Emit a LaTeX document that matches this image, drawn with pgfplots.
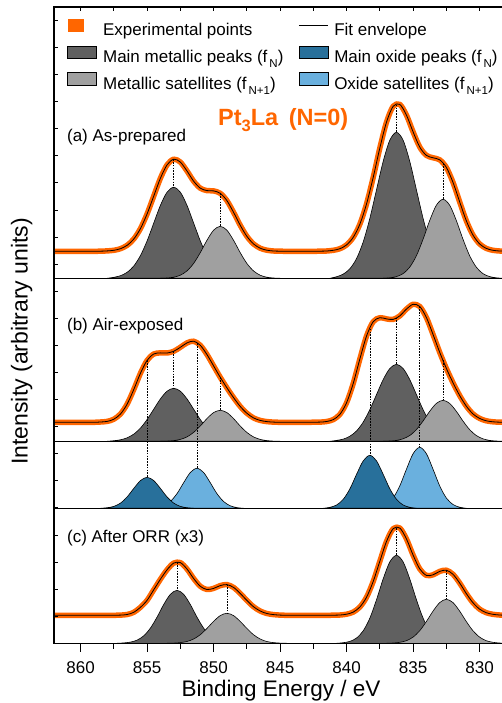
\documentclass[border=0pt]{standalone}
\usepackage{fontspec}
\setmainfont{Liberation Sans}
\usepackage{pgfplots}
\pgfplotsset{compat=1.18}
\definecolor{expcol}{RGB}{255,102,0}
\definecolor{mmet}{RGB}{96,96,96}
\definecolor{smet}{RGB}{160,160,160}
\definecolor{mox}{RGB}{40,112,155}
\definecolor{sox}{RGB}{106,176,222}
\newcommand{\lsub}[1]{\hspace{2pt}\raisebox{-5.5pt}{\fontsize{11.5}{12}\selectfont #1}}
\pgfplotsset{
  comp/.style={fill=#1, draw=black, line width=0.6pt, smooth, forget plot},
  expband/.style={expcol, line width=5.5pt, smooth, line join=round, forget plot},
  env/.style={black, line width=0.8pt, smooth, forget plot},
  dl/.style={black, line width=0.5pt, dash pattern=on 1.6pt off 1.2pt, forget plot},
  sep/.style={black, line width=1.1pt, forget plot},
}
\begin{document}
\begin{tikzpicture}
\begin{axis}[
  scale only axis, width=452.2pt, height=636.3pt,
  xmin=828, xmax=862, ymin=0, ymax=636.3, x dir=reverse,
  axis line style={line width=1.1pt},
  tick align=outside, xtick pos=left, ytick=\empty,
  xtick={830,835,...,860}, minor xtick={832.5,837.5,...,857.5},
  major tick length=8.3pt, minor tick length=5.5pt,
  every tick/.style={black, line width=0.9pt},
  /pgf/number format/assume math mode=true,
  xticklabel style={font=\fontsize{17}{20}\selectfont, yshift=-6pt},
  xlabel={Binding Energy / eV},
  ylabel={Intensity (arbitrary units)},
  xlabel style={font=\fontsize{22.5}{26}\selectfont, at={(axis description cs:0.502,0)}, anchor=base, yshift=-53.4pt},
  ylabel style={font=\fontsize{23}{26}\selectfont, at={(axis description cs:-0.0714,0.4746)}, anchor=center},
  legend columns=2,
  legend cell align=left,
  legend style={draw=none, fill=none, inner sep=0pt, at={(axis cs:861,624.5)}, anchor=north west,
    row sep=6.5pt,
    font=\fontsize{17}{20}\selectfont,
    /tikz/every odd column/.append style={column sep=4pt},
    /tikz/every even column/.append style={column sep=13pt}},
]
\addlegendimage{legend image code/.code={\fill[expcol] (0pt,-1.4pt) rectangle (15.6pt,11pt);}}
\addlegendentry{Experimental points}
\addlegendimage{legend image code/.code={\draw[black, line width=0.8pt] (0pt,4.5pt) -- (29pt,4.5pt);}}
\addlegendentry{Fit envelope}
\addlegendimage{legend image code/.code={\draw[black, line width=0.6pt, fill=mmet] (0pt,-1.4pt) rectangle (29pt,11pt);}}
\addlegendentry{Main metallic peaks (f\lsub{N})}
\addlegendimage{legend image code/.code={\draw[black, line width=0.6pt, fill=mox] (0pt,-1.4pt) rectangle (29pt,11pt);}}
\addlegendentry{Main oxide peaks (f\lsub{N})}
\addlegendimage{legend image code/.code={\draw[black, line width=0.6pt, fill=smet] (0pt,-1.4pt) rectangle (29pt,11pt);}}
\addlegendentry{Metallic satellites (f\lsub{N+1})}
\addlegendimage{legend image code/.code={\draw[black, line width=0.6pt, fill=sox] (0pt,-1.4pt) rectangle (29pt,11pt);}}
\addlegendentry{Oxide satellites (f\lsub{N+1})}

% ---------------- Panel (a) components
\addplot[comp=mmet] coordinates {(848,365)(848.5,366)(849,367.6)(849.5,371)(850,377.3)(850.5,387.7)(851,402.4)(851.5,420.2)(852,437.9)(852.5,451.1)(853,456)(853.5,451.1)(854,437.9)(854.5,420.2)(855,402.4)(855.5,387.7)(856,377.3)(856.5,371)(857,367.6)(857.5,366)(858,365)} -- cycle;
\addplot[comp=smet] coordinates {(845,365)(845.5,365.3)(846,366.1)(846.5,368.1)(847,372.4)(847.5,379.9)(848,390.7)(848.5,403)(849,413.1)(849.5,417)(850,413.1)(850.5,403)(851,390.7)(851.5,379.9)(852,372.4)(852.5,368.1)(853,366.1)(853.5,365.3)(854,365)} -- cycle;
\addplot[comp=mmet] coordinates {(831.25,365)(831.75,366.6)(832.25,369.2)(832.75,374.6)(833.25,384.8)(833.75,401.4)(834.25,425)(834.75,453.5)(835.25,481.9)(835.75,503.1)(836.25,511)(836.75,503.1)(837.25,481.9)(837.75,453.5)(838.25,425)(838.75,401.4)(839.25,384.8)(839.75,374.6)(840.25,369.2)(840.75,366.6)(841.25,365)} -- cycle;
\addplot[comp=smet] coordinates {(828.25,365)(828.75,365.5)(829.25,366.7)(829.75,369.7)(830.25,376.2)(830.75,387.6)(831.25,404.1)(831.75,422.8)(832.25,438.1)(832.75,444)(833.25,438.1)(833.75,422.8)(834.25,404.1)(834.75,387.6)(835.25,376.2)(835.75,369.7)(836.25,366.7)(836.75,365.5)(837.25,365)} -- cycle;

% ---------------- Panel (b) metallic components
\addplot[comp=mmet] coordinates {(848,202)(848.5,202.6)(849,203.5)(849.5,205.5)(850,209.2)(850.5,215.2)(851,223.8)(851.5,234.1)(852,244.4)(852.5,252.1)(853,255)(853.5,252.1)(854,244.4)(854.5,234.1)(855,223.8)(855.5,215.2)(856,209.2)(856.5,205.5)(857,203.5)(857.5,202.6)(858,202)} -- cycle;
\addplot[comp=smet] coordinates {(845,202)(845.5,202.2)(846,202.7)(846.5,203.9)(847,206.4)(847.5,210.9)(848,217.3)(848.5,224.7)(849,230.7)(849.5,233)(850,230.7)(850.5,224.7)(851,217.3)(851.5,210.9)(852,206.4)(852.5,203.9)(853,202.7)(853.5,202.2)(854,202)} -- cycle;
\addplot[comp=mmet] coordinates {(831.25,202)(831.75,202.9)(832.25,204.2)(832.75,207.1)(833.25,212.4)(833.75,221.2)(834.25,233.7)(834.75,248.7)(835.25,263.7)(835.75,274.8)(836.25,279)(836.75,274.8)(837.25,263.7)(837.75,248.7)(838.25,233.7)(838.75,221.2)(839.25,212.4)(839.75,207.1)(840.25,204.2)(840.75,202.9)(841.25,202)} -- cycle;
\addplot[comp=smet] coordinates {(828.25,202)(828.75,202.3)(829.25,202.9)(829.75,204.5)(830.25,207.8)(830.75,213.7)(831.25,222.3)(831.75,232)(832.25,239.9)(832.75,243)(833.25,239.9)(833.75,232)(834.25,222.3)(834.75,213.7)(835.25,207.8)(835.75,204.5)(836.25,202.9)(836.75,202.3)(837.25,202)} -- cycle;

% ---------------- Oxide components
\addplot[comp=sox] coordinates {(847.75,135)(848.25,135.7)(848.75,137.5)(849.25,141.8)(849.75,149.7)(850.25,160.6)(850.75,170.8)(851.25,175)(851.75,170.8)(852.25,160.6)(852.75,149.7)(853.25,141.8)(853.75,137.5)(854.25,135.7)(854.75,135)} -- cycle;
\addplot[comp=mox] coordinates {(851.5,135)(852,135.6)(852.5,136.9)(853,140.2)(853.5,146.4)(854,154.9)(854.5,162.7)(855,166)(855.5,162.7)(856,154.9)(856.5,146.4)(857,140.2)(857.5,136.9)(858,135.6)(858.5,135)} -- cycle;
\addplot[comp=sox] coordinates {(831,135)(831.5,136.1)(832,138.8)(832.5,145.3)(833,157.4)(833.5,174.1)(834,189.6)(834.5,196)(835,189.6)(835.5,174.1)(836,157.4)(836.5,145.3)(837,138.8)(837.5,136.1)(838,135)} -- cycle;
\addplot[comp=mox] coordinates {(834.75,135)(835.25,136)(835.75,138.3)(836.25,144)(836.75,154.5)(837.25,169)(837.75,182.4)(838.25,188)(838.75,182.4)(839.25,169)(839.75,154.5)(840.25,144)(840.75,138.3)(841.25,136)(841.75,135)} -- cycle;

% ---------------- Panel (c) components
\addplot[comp=mmet] coordinates {(848.25,0)(848.75,0.4)(849.25,1.2)(849.75,3.2)(850.25,7.5)(850.75,15.2)(851.25,26.2)(851.75,38.8)(852.25,49)(852.75,53)(853.25,49)(853.75,38.8)(854.25,26.2)(854.75,15.2)(855.25,7.5)(855.75,3.2)(856.25,1.2)(856.75,0.4)(857.25,0)} -- cycle;
\addplot[comp=smet] coordinates {(844.5,0)(845,0.2)(845.5,0.7)(846,1.8)(846.5,4.3)(847,8.6)(847.5,14.9)(848,21.9)(848.5,27.7)(849,30)(849.5,27.7)(850,21.9)(850.5,14.9)(851,8.6)(851.5,4.3)(852,1.8)(852.5,0.7)(853,0.2)(853.5,0)} -- cycle;
\addplot[comp=mmet] coordinates {(831.75,0)(832.25,0.6)(832.75,1.9)(833.25,5.3)(833.75,12.5)(834.25,25.2)(834.75,43.6)(835.25,64.4)(835.75,81.4)(836.25,88)(836.75,81.4)(837.25,64.4)(837.75,43.6)(838.25,25.2)(838.75,12.5)(839.25,5.3)(839.75,1.9)(840.25,0.6)(840.75,0)} -- cycle;
\addplot[comp=smet] coordinates {(828,0)(828.5,0.3)(829,1)(829.5,2.6)(830,6.2)(830.5,12.6)(831,21.8)(831.5,32.2)(832,40.7)(832.5,44)(833,40.7)(833.5,32.2)(834,21.8)(834.5,12.6)(835,6.2)(835.5,2.6)(836,1)(836.5,0.3)(837,0)} -- cycle;

% ---------------- separators
\addplot[sep] coordinates {(828,365)(862,365)};
\addplot[sep] coordinates {(828,202)(862,202)};
\addplot[sep] coordinates {(828,135)(862,135)};

% ---------------- experimental bands and envelopes
\pgfplotstableread{
x y
862 392
861 392
860 392
859 392
858.5 392.1
858 392.4
857.5 393
857 394.6
856.5 398
856 404.3
855.5 414.7
855 429.4
854.5 447.2
854 465
853.5 478.4
853 484.1
852.5 481.2
852 472.3
851.5 462.1
851 455.1
850.5 452.7
850 452.4
849.5 450
849 442.7
848.5 431
848 418.1
847.5 407
847 399.4
846.5 395.1
846 393.1
845.5 392.3
845 392.1
844.5 392
843.5 392
842.5 392
842 392.1
841.5 392.3
841 393
840.5 394.6
840 398.4
839.5 406
839 419.2
838.5 439.4
838 465.9
837.5 495.3
837 521.1
836.5 537
836 538.9
835.5 528.2
835 511.4
834.5 496.2
834 487.9
833.5 485.5
833 483.5
832.5 475.9
832 460.9
831.5 441.5
831 422.6
830.5 408.3
830 399.4
829.5 394.9
829 393
828.5 392.3
828 392.1
}\enva
\pgfplotstableread{
x y
862 221
861 221
860 221
859 221
858.5 221.3
858 221.9
857.5 224.1
857 229.3
856.5 239.2
856 253.8
855.5 270
855 282.9
854.5 289.3
854 290.4
853.5 290.3
853 292
852.5 296
852 300.4
851.5 302.1
851 298
850.5 288.8
850 277.4
849.5 266
849 255.5
848.5 245.7
848 236.9
847.5 230.1
847 225.4
846.5 222.9
846 221.7
845.5 221.2
845 221
844 221
843 221
842 221.2
841.5 221.8
841 223.7
840.5 229
840 240.6
839.5 259.9
839 284.4
838.5 307.3
838 321.6
837.5 325.6
837 324.4
836.5 323.9
836 327.4
835.5 334.2
835 339
834.5 336.8
834 325.8
833.5 308.8
833 291
832.5 274.9
832 260.6
831.5 247.8
831 237.2
830.5 229.4
830 224.9
829.5 222.5
829 221.5
828.5 221.1
828 221
}\envb
\pgfplotstableread{
x y
862 28
861 28
860 28
859 28
858 28
857.5 28
857 28.2
856.5 28.8
856 31
855.5 36
855 43
854.5 53.5
854 64
853.5 73.5
853 80.2
852.5 80.7
852 74.3
851.5 64.8
851 57
850.5 53.8
850 54.9
849.5 57.7
849 58.7
848.5 55.9
848 49.9
847.5 42.9
847 36.6
846.5 32.3
846 29.8
845.5 28.7
845 28.2
844.5 28
843.5 28
842.5 28
841.5 28
841 28.1
840.5 28.3
840 29.1
839.5 31.2
839 36.3
838.5 46.1
838 61.8
837.5 82
837 101.8
836.5 114.6
836 115.3
835.5 104.4
835 88.2
834.5 74.4
834 67.9
833.5 68.5
833 71.9
832.5 73.1
832 69
831.5 60.3
831 49.8
830.5 40.6
830 34.2
829.5 30.6
829 29
828.5 28.3
828 28
}\envc
\addplot[expband] table {\enva};
\addplot[expband] table {\envb};
\addplot[expband] table {\envc};
\addplot[env] table {\enva};
\addplot[env] table {\envb};
\addplot[env] table {\envc};

% ---------------- dashed guide lines
\addplot[dl] coordinates {(853,484.1)(853,456)};
\addplot[dl] coordinates {(849.5,450)(849.5,417)};
\addplot[dl] coordinates {(836.25,538.5)(836.25,511)};
\addplot[dl] coordinates {(832.75,479.7)(832.75,444)};
\addplot[dl] coordinates {(855,282.9)(855,166)};
\addplot[dl] coordinates {(853,292)(853,255)};
\addplot[dl] coordinates {(851.25,300)(851.25,175)};
\addplot[dl] coordinates {(849.5,266)(849.5,233)};
\addplot[dl] coordinates {(838.25,314.5)(838.25,188)};
\addplot[dl] coordinates {(836.25,325.6)(836.25,279)};
\addplot[dl] coordinates {(834.5,336.8)(834.5,196)};
\addplot[dl] coordinates {(832.75,283)(832.75,243)};
\addplot[dl] coordinates {(852.75,81)(852.75,53)};
\addplot[dl] coordinates {(849,58.7)(849,30)};
\addplot[dl] coordinates {(836.25,115.3)(836.25,88)};
\addplot[dl] coordinates {(832.5,73.1)(832.5,44)};

% ---------------- texts
\node[anchor=base west, font=\fontsize{17}{20}\selectfont] at (axis cs:861.28,501.6) {(a) As-prepared};
\node[anchor=base west, font=\fontsize{17}{20}\selectfont] at (axis cs:861.28,312.8) {(b) Air-exposed};
\node[anchor=base west, font=\fontsize{17}{20}\selectfont] at (axis cs:861.28,100.8) {(c) After ORR (x3)};
\node[anchor=base west, font=\bfseries\fontsize{23.5}{26}\selectfont, text=expcol] at (axis cs:849.92,518) {Pt\raisebox{-6.5pt}{\fontsize{16.5}{17}\selectfont 3}La\hspace{0.45em}(N=0)};
\end{axis}
\begin{axis}[
  scale only axis, width=452.2pt, height=636.3pt,
  xmin=828, xmax=862, ymin=0, ymax=636.3, x dir=reverse,
  axis line style={line width=1.1pt},
  tick align=inside, xtick pos=right, ytick pos=left,
  xtick={830,832.5,...,860}, xticklabels={},
  ytick={0,27.08,54.16,81.24,108.32,135.4,162.48,189.56,216.64,243.72,270.8,297.88,324.96,352.04,379.12,406.2,433.28,460.36,487.44,514.52,541.6,568.68,595.76,622.84},
  yticklabels={},
  major tick length=4.5pt,
  every tick/.style={black, line width=0.9pt},
]
\end{axis}
\pgfresetboundingbox
\useasboundingbox (-54pt,-59.7pt) rectangle (447pt,643.3pt);
\end{tikzpicture}
\end{document}
